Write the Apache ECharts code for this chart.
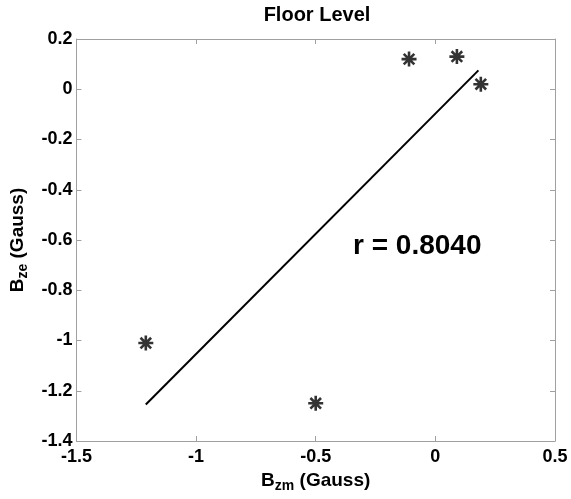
<!DOCTYPE html>
<html>
<head>
<meta charset="utf-8">
<script src="https://cdn.jsdelivr.net/npm/echarts@6/dist/echarts.min.js"></script>
<style>
    html, body { margin: 0; padding: 0; background: #fff; }
    #chart { width: 571px; height: 499px; }
</style>
</head>
<body>
<div id="chart"></div>
<script>
(function (win) {
    // measured points (Bzm, Bze)
    var pointX = [-0.11, 0.09, 0.19, -1.21, -0.5];
    var pointY = [0.12, 0.13, 0.02, -1.01, -1.25];

    // fitted line end points
    var lineX = [-1.21, 0.18];
    var lineY = [-1.255, 0.075];

    var rText = 'r = 0.8040';
    var font = 'Liberation Sans';
    var gridColor = '#a0a0a0';
    var star = 'path://M0,-10L0,10M-10,0L10,0M-7.07,-7.07L7.07,7.07M-7.07,7.07L7.07,-7.07';

    var points = pointX.map(function (x, i) { return [x, pointY[i]]; });
    var fit = lineX.map(function (x, i) { return [x, lineY[i]]; });

    var nameRich = {
        b: { fontSize: 19, fontWeight: 'bold', fontFamily: font, color: '#000', lineHeight: 26 },
        s: { fontSize: 14, fontWeight: 'bold', fontFamily: font, color: '#000', lineHeight: 14, verticalAlign: 'bottom' }
    };

    function mirrorAxis(pos) {
        return {
            type: 'value',
            position: pos,
            min: pos === 'top' ? -1.5 : -1.4,
            max: pos === 'top' ? 0.5 : 0.2,
            interval: pos === 'top' ? 0.5 : 0.2,
            axisLine: { show: true, onZero: false, lineStyle: { color: gridColor, width: 1 } },
            axisTick: { show: true, inside: true, length: 5, lineStyle: { color: gridColor } },
            axisLabel: { show: false },
            splitLine: { show: false }
        };
    }

    var chart = echarts.init(document.getElementById('chart'));
    chart.setOption({
        animation: false,
        backgroundColor: '#fff',
        title: {
            text: 'Floor Level',
            left: 312,
            textAlign: 'center',
            top: 0,
            textStyle: { fontFamily: font, fontWeight: 'bold', fontSize: 20, color: '#000' }
        },
        grid: { left: 69, right: 16, top: 39, bottom: 58 },
        xAxis: [{
            type: 'value',
            min: -1.5,
            max: 0.5,
            interval: 0.5,
            name: '{b|B}{s|zm}{b| (Gauss)}',
            nameLocation: 'middle',
            nameGap: 22,
            nameTextStyle: { rich: nameRich },
            axisLine: { show: true, onZero: false, lineStyle: { color: gridColor, width: 1 } },
            axisTick: { show: true, inside: true, length: 5, lineStyle: { color: gridColor } },
            axisLabel: { margin: 7, fontFamily: font, fontWeight: 'bold', fontSize: 18, color: '#000' },
            splitLine: { show: false }
        }, mirrorAxis('top')],
        yAxis: [{
            type: 'value',
            min: -1.4,
            max: 0.2,
            interval: 0.2,
            name: '{b|B}{s|ze}{b| (Gauss)}',
            nameLocation: 'middle',
            nameRotate: 90,
            nameGap: 36,
            nameTextStyle: { rich: nameRich },
            axisLine: { show: true, onZero: false, lineStyle: { color: gridColor, width: 1 } },
            axisTick: { show: true, inside: true, length: 5, lineStyle: { color: gridColor } },
            axisLabel: { margin: 4, fontFamily: font, fontWeight: 'bold', fontSize: 18, color: '#000' },
            splitLine: { show: false }
        }, mirrorAxis('right')],
        graphic: [{
            type: 'text',
            left: 353,
            top: 232,
            style: {
                text: rText,
                font: 'bold 28px "' + font + '"',
                fill: '#000'
            }
        }],
        series: [{
            type: 'line',
            data: fit,
            symbol: 'none',
            lineStyle: { color: '#000', width: 2 },
            silent: true
        }, {
            type: 'scatter',
            data: points,
            symbol: star,
            symbolSize: 15,
            itemStyle: { color: 'none', borderColor: '#000', borderWidth: 2.6 },
            silent: true
        }]
    });
})(this);
</script>
</body>
</html>
